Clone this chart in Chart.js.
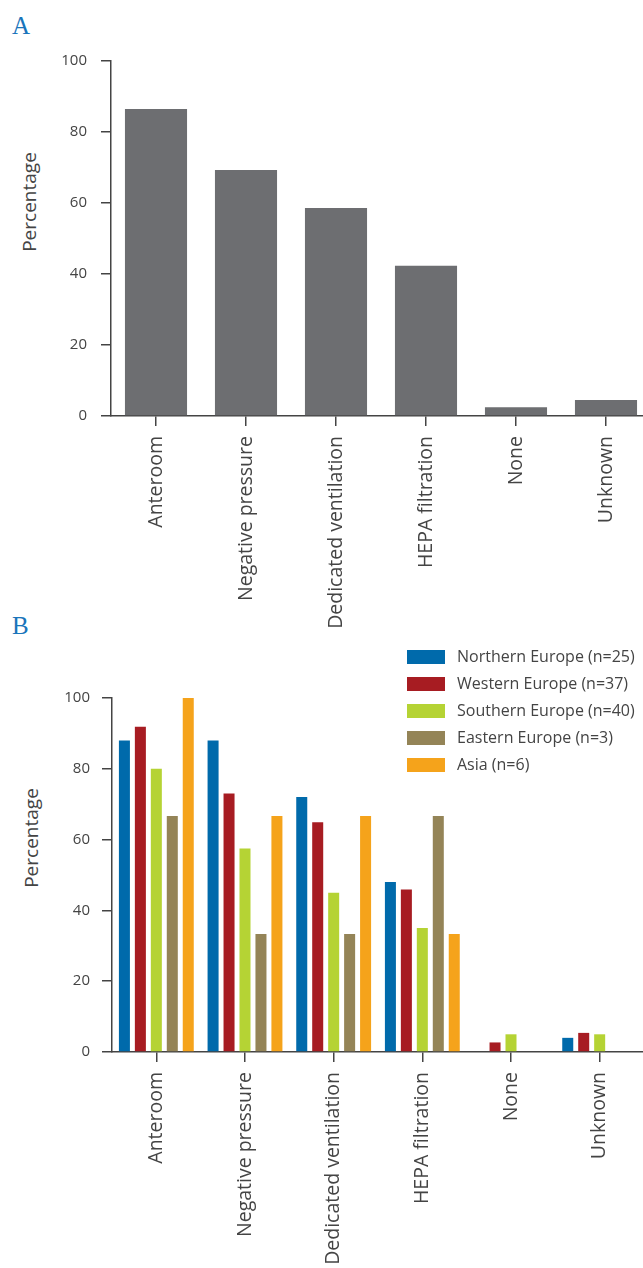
<!DOCTYPE html>
<html>
<head>
<meta charset="utf-8">
<script src="https://cdn.jsdelivr.net/npm/chart.js@4.4.1/dist/chart.umd.min.js"></script>
<style>
  html, body { margin: 0; padding: 0; background: #fff; overflow: hidden; width: 643px; height: 1268px; }
  body { position: relative; font-family: "Open Sans", sans-serif; color: #444; }
  canvas { position: absolute; left: 0; }
  #chartA { top: 0; }
  #chartB { top: 640px; }
  .panel { position: absolute; font-family: "Liberation Serif", serif; font-size: 25px; color: #1a75bb; }
  .ytitle { position: absolute; font-size: 19px; color: #444; transform: translate(-50%, -50%) rotate(-90deg); white-space: nowrap; }
  #legendB { position: absolute; left: 407px; top: 650px; }
  .lg { height: 27px; position: relative; }
  .lg span.box { position: absolute; left: 0; top: 0; width: 38px; height: 14px; }
  .lg span.txt { position: absolute; left: 50px; top: -5px; font-size: 16px; white-space: nowrap; color: #444; }
</style>
</head>
<body>
<div class="panel" style="left:12px;top:12px;">A</div>
<div class="panel" style="left:12px;top:612px;">B</div>
<div class="ytitle" style="left:29px;top:202px;">Percentage</div>
<div class="ytitle" style="left:31px;top:838px;">Percentage</div>
<canvas id="chartA" width="655" height="640"></canvas>
<canvas id="chartB" width="645" height="628"></canvas>
<div id="legendB"></div>
<script>
// categories shared by both panels
const categories = ['Anteroom', 'Negative pressure', 'Dedicated ventilation', 'HEPA filtration', 'None', 'Unknown'];

// panel A: all hospitals
const allValues = [86.5, 69.3, 58.6, 42.3, 2.5, 4.5];

// panel B: by region
const regionNames = ['Northern Europe (n=25)', 'Western Europe (n=37)', 'Southern Europe (n=40)', 'Eastern Europe (n=3)', 'Asia (n=6)'];
const northern = [88, 88, 72, 48, 0, 4];
const western = [91.9, 73, 64.9, 45.9, 2.7, 5.4];
const southern = [80, 57.5, 45, 35, 5, 5];
const eastern = [66.7, 33.3, 33.3, 66.7, 0, 0];
const asia = [100, 66.7, 66.7, 33.3, 0, 0];
const regionColors = ['#006aab', '#a71c22', '#b5d334', '#948457', '#f5a31b'];

const yTicks = [0, 20, 40, 60, 80, 100];

const axisColor = '#444';
const textColor = '#444';

function makeScales(yWidth, xHeight, yPad, xPad) {
  return {
    x: {
      offset: true,
      grid: { display: true, drawOnChartArea: false, offset: false, tickLength: 10, color: axisColor, lineWidth: 1.5 },
      border: { display: true, color: axisColor, width: 1.5 },
      ticks: { minRotation: 90, maxRotation: 90, autoSkip: false, padding: xPad, color: textColor,
               font: { family: 'Open Sans', size: 19.5 } },
      afterFit: s => { s.height = xHeight; }
    },
    y: {
      min: 0, max: 100,
      afterBuildTicks: s => { s.ticks = yTicks.map(v => ({ value: v })); },
      grid: { display: true, drawOnChartArea: false, tickLength: 10, color: axisColor, lineWidth: 1.5 },
      border: { display: true, color: axisColor, width: 1.5 },
      ticks: { padding: yPad, color: textColor, font: { family: 'Open Sans', size: 15 } },
      afterFit: s => { s.width = yWidth; }
    }
  };
}

new Chart(document.getElementById('chartA'), {
  type: 'bar',
  data: {
    labels: categories,
    datasets: [{ data: allValues, backgroundColor: '#6d6e71', barPercentage: 0.69, categoryPercentage: 1 }]
  },
  options: {
    responsive: false, animation: false, devicePixelRatio: 1,
    layout: { padding: { top: 61, right: 4, left: 0, bottom: 0 } },
    plugins: { legend: { display: false }, tooltip: { enabled: false } },
    scales: makeScales(111, 224, 14, 10)
  }
});

const regionSeries = [northern, western, southern, eastern, asia];
new Chart(document.getElementById('chartB'), {
  type: 'bar',
  data: {
    labels: categories,
    datasets: regionSeries.map((vals, i) => ({
      label: regionNames[i], data: vals, backgroundColor: regionColors[i],
      barPercentage: 0.69, categoryPercentage: 0.9
    }))
  },
  options: {
    responsive: false, animation: false, devicePixelRatio: 1,
    layout: { padding: { top: 58, right: 1, left: 0, bottom: 0 } },
    plugins: { legend: { display: false }, tooltip: { enabled: false } },
    scales: makeScales(112, 216, 12, 10)
  }
});

// legend for panel B
const lg = document.getElementById('legendB');
regionNames.forEach((name, i) => {
  const row = document.createElement('div');
  row.className = 'lg';
  row.innerHTML = '<span class="box" style="background:' + regionColors[i] + '"></span><span class="txt">' + name + '</span>';
  lg.appendChild(row);
});
</script>
</body>
</html>
